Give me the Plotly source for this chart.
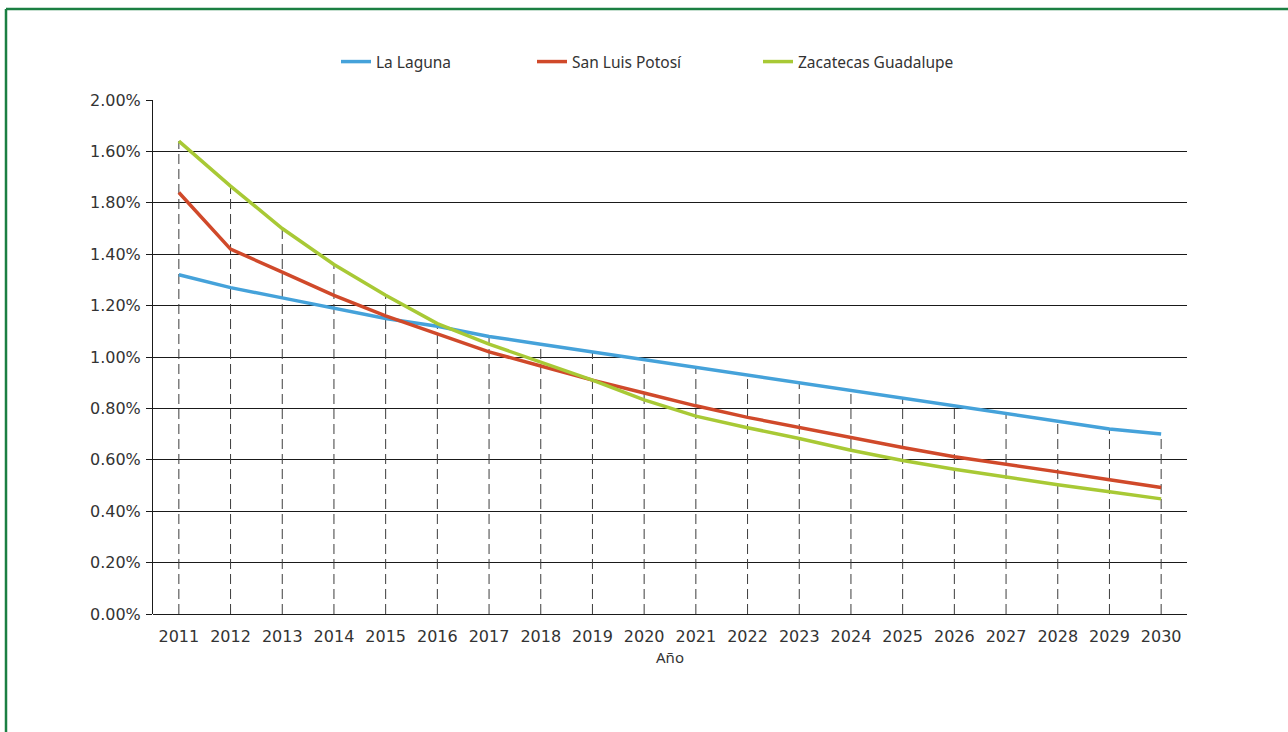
import plotly.graph_objects as go

years = [str(y) for y in range(2011, 2031)]
la_laguna = [1.32, 1.27, 1.23, 1.19, 1.15, 1.12, 1.08, 1.05, 1.02, 0.99,
             0.96, 0.93, 0.90, 0.87, 0.84, 0.81, 0.78, 0.75, 0.72, 0.70]
san_luis = [1.64, 1.42, 1.33, 1.24, 1.16, 1.09, 1.02, 0.965, 0.91, 0.86,
            0.81, 0.765, 0.725, 0.685, 0.648, 0.612, 0.584, 0.553, 0.522, 0.492]
zacatecas = [1.84, 1.665, 1.50, 1.36, 1.24, 1.13, 1.05, 0.98, 0.91, 0.833,
             0.77, 0.725, 0.683, 0.637, 0.597, 0.563, 0.532, 0.503, 0.476, 0.448]
y_tickvals = [0, 0.2, 0.4, 0.6, 0.8, 1.0, 1.2, 1.4, 1.6, 1.8, 2.0]
y_ticktext = ["0.00%", "0.20%", "0.40%", "0.60%", "0.80%", "1.00%", "1.20%",
              "1.40%", "1.80%", "1.60%", "2.00%"]

TICK_FONT = "DejaVu Sans"
LABEL_FONT = "Noto Sans"
W, H = 1288, 732
ML, MR, MT, MB = 153, 101, 100, 118
pw = W - ML - MR
ph = H - MT - MB


def px_x(p):
    return (p - ML) / pw


def px_y(p):
    return (H - MB - p) / ph


fig = go.Figure()

# dashed drop lines from the top-most series value down to the axis
drop_x, drop_y = [], []
for i, yr in enumerate(years):
    top = max(la_laguna[i], san_luis[i], zacatecas[i])
    drop_x += [yr, yr, None]
    drop_y += [0, top, None]
fig.add_trace(go.Scatter(x=drop_x, y=drop_y, mode="lines", showlegend=False,
                         hoverinfo="skip",
                         line=dict(color="#3c3c3c", width=1, dash="10px,5px")))

series = [("La Laguna", la_laguna, "#45a2da", "legend", 336),
          ("San Luis Potosí", san_luis, "#d0492a", "legend2", 532),
          ("Zacatecas Guadalupe", zacatecas, "#a8c935", "legend3", 758)]
legend_cfg = {}
for name, vals, col, lg, xpix in series:
    fig.add_trace(go.Scatter(x=years, y=vals, name=name, mode="lines",
                             legend=lg, line=dict(color=col, width=3.5)))
    legend_cfg[lg] = dict(orientation="h", x=px_x(xpix), xanchor="left",
                          y=px_y(62), yanchor="middle", itemwidth=30,
                          font=dict(family=LABEL_FONT, size=15.5, color="#333333"),
                          bgcolor="rgba(0,0,0,0)")

# green frame
fig.add_shape(type="line", xref="paper", yref="paper",
              x0=px_x(6), x1=px_x(1300), y0=px_y(9), y1=px_y(9),
              line=dict(color="#1b7f42", width=2.5))
fig.add_shape(type="line", xref="paper", yref="paper",
              x0=px_x(6), x1=px_x(6), y0=px_y(9), y1=px_y(745),
              line=dict(color="#1b7f42", width=2.5))

fig.update_layout(
    width=W, height=H,
    margin=dict(l=ML, r=MR, t=MT, b=MB),
    paper_bgcolor="white", plot_bgcolor="white",
    font=dict(family=TICK_FONT, color="#333333", size=14),
    showlegend=True,
    **legend_cfg,
    xaxis=dict(type="category", range=[-0.5, 19.5], showgrid=False,
               showline=False, ticks="", zeroline=False,
               ticklabelstandoff=11,
               tickfont=dict(family=TICK_FONT, size=16, color="#333333"),
               title=dict(text="Año", font=dict(family=LABEL_FONT, size=15, color="#333333"),
                          standoff=7)),
    yaxis=dict(range=[0, 2.0], tickvals=y_tickvals, ticktext=y_ticktext,
               showgrid=True, gridcolor="#1a1a1a", gridwidth=1,
               showline=True, linecolor="#1a1a1a", linewidth=1,
               ticks="outside", ticklen=6, tickcolor="#1a1a1a",
               ticklabelstandoff=2,
               zeroline=True, zerolinecolor="#1a1a1a", zerolinewidth=1,
               tickfont=dict(family=TICK_FONT, size=16, color="#333333")),
)

fig.write_html("out.html")
